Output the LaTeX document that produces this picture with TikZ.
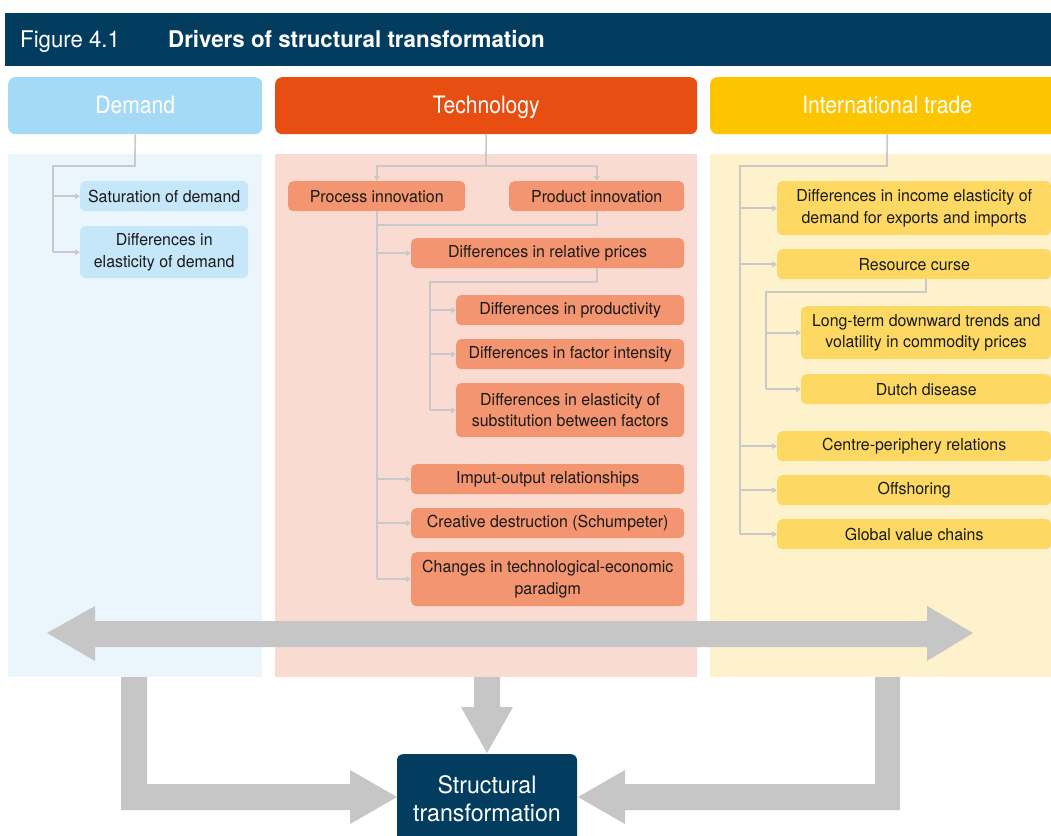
\documentclass[tikz,border=0pt]{standalone}
\usepackage{fontspec}
\setmainfont{TeX Gyre Heros}[FakeStretch=0.965]
\newfontfamily\titlefont{TeX Gyre Heros}[FakeStretch=0.97]
\newfontfamily\hdrfont{TeX Gyre Heros}[FakeStretch=0.88]
\usetikzlibrary{arrows.meta}

\definecolor{navy}{HTML}{023D60}
\definecolor{demhdr}{HTML}{A4DAF6}
\definecolor{dempanel}{HTML}{EBF6FC}
\definecolor{dembox}{HTML}{C6E7F9}
\definecolor{techhdr}{HTML}{E84D12}
\definecolor{techpanel}{HTML}{F9DBD1}
\definecolor{techbox}{HTML}{F29570}
\definecolor{tradehdr}{HTML}{FDC400}
\definecolor{tradepanel}{HTML}{FEF2CD}
\definecolor{tradebox}{HTML}{FDD964}
\definecolor{bigarrow}{HTML}{C6C6C6}
\definecolor{linegrey}{HTML}{C9C9C9}
\definecolor{ink}{HTML}{1A1A1A}

% box placed by its top-left corner and bottom-right corner
\newcommand\bx[7]{\node[#2, anchor=north west, minimum width={#5-#3}, minimum height={#6-#4}] (#1) at (#3,#4) {#7};}

\tikzset{
  colhdr/.style={rounded corners=7pt, inner sep=0pt, text=white, text height=18.5pt, text depth=3.5pt,
                 font=\hdrfont\fontsize{24}{28}\selectfont},
  itembox/.style={rounded corners=5pt, inner sep=0pt, align=center, text=ink, font=\fontsize{16.5}{21.5}\selectfont},
  dbox/.style={itembox, fill=dembox},
  tbox/.style={itembox, fill=techbox},
  ybox/.style={itembox, fill=tradebox},
  conn/.style={draw=linegrey, line width=1.7pt},
  arr/.style={conn, -{Triangle[length=5pt,width=5.5pt]}},
  bigfill/.style={fill=bigarrow, draw=none},
}

\begin{document}
\begin{tikzpicture}[x=1pt,y=-1pt]
\clip (0,0) rectangle (1051,835);
\fill[white] (0,0) rectangle (1051,835);

% title bar
\fill[navy] (5,13) rectangle (1060,66);
\node[anchor=base west, text=white, inner sep=0pt, font=\fontsize{23}{26}\selectfont] (fig) at (20,47) {Figure 4.1};
\node[anchor=base west, text=white, inner sep=0pt, font=\titlefont\bfseries\fontsize{23}{26}\selectfont] (ttl) at (168,47) {Drivers of structural transformation};

% column panels
\fill[dempanel] (8,154) rectangle (262,677);
\fill[techpanel] (275,154) rectangle (697,677);
\fill[tradepanel] (710,154) rectangle (1060,677);

% column headers
\bx{dem}{colhdr, fill=demhdr}{8}{77}{262}{134}{Demand}
\bx{tech}{colhdr, fill=techhdr}{275}{77}{697}{134}{Technology}
\bx{trade}{colhdr, fill=tradehdr}{710}{77}{1064}{134}{International trade}

% ---- Demand ----
\bx{sat}{dbox}{80}{181}{248}{211}{Saturation of demand}
\bx{del}{dbox}{80}{226}{248}{278}{Differences in\\elasticity of demand}
\coordinate (dj) at (135,166);
\coordinate (ds) at (53,166);
\draw[conn] (dem.south) -- (dj) -- (ds) -- (ds |- del.west);
\draw[arr] (ds |- sat.west) -- (sat.west);
\draw[arr] (ds |- del.west) -- (del.west);

% ---- Technology ----
\bx{proc}{tbox}{288}{181}{465}{211}{Process innovation}
\bx{prod}{tbox}{509}{181}{684}{211}{Product innovation}
\bx{rel}{tbox}{411}{238}{684}{268}{Differences in relative prices}
\bx{pty}{tbox}{456}{295}{684}{325}{Differences in productivity}
\bx{fint}{tbox}{456}{339}{684}{369}{Differences in factor intensity}
\bx{subs}{tbox}{456}{383}{684}{437}{Differences in elasticity of\\substitution between factors}
\bx{io}{tbox}{411}{464}{684}{494}{Imput-output relationships}
\bx{cd}{tbox}{411}{508}{684}{538}{Creative destruction (Schumpeter)}
\bx{chg}{tbox}{411}{552}{684}{606}{Changes in technological-economic\\paradigm}

\coordinate (tj) at (486,166);
\draw[conn] (tech.south) -- (tj);
\draw[arr] (tj) -| (proc.north);
\draw[arr] (tj) -| (prod.north);
\coordinate (pj) at (0,225);
\draw[conn] (proc.south) -- (proc.south |- chg.west);
\draw[conn] (prod.south) |- (proc.south |- pj);
\draw[arr] (proc.south |- rel.west) -- (rel.west);
\draw[arr] (proc.south |- io.west) -- (io.west);
\draw[arr] (proc.south |- cd.west) -- (cd.west);
\draw[arr] (proc.south |- chg.west) -- (chg.west);
\coordinate (rj) at (430,282);
\draw[conn] (prod.south |- rel.south) |- (rj) -- (rj |- subs.west);
\draw[arr] (rj |- pty.west) -- (pty.west);
\draw[arr] (rj |- fint.west) -- (fint.west);
\draw[arr] (rj |- subs.west) -- (subs.west);

% ---- International trade ----
\bx{inc}{ybox}{777}{181}{1051}{235}{Differences in income elasticity of\\demand for exports and imports}
\bx{rc}{ybox}{777}{249}{1051}{279}{Resource curse}
\bx{lt}{ybox}{801}{306}{1051}{359}{Long-term downward trends and\\volatility in commodity prices}
\bx{dd}{ybox}{801}{374}{1051}{404}{Dutch disease}
\bx{cp}{ybox}{777}{431}{1051}{461}{Centre-periphery relations}
\bx{off}{ybox}{777}{475}{1051}{505}{Offshoring}
\bx{gvc}{ybox}{777}{519}{1051}{549}{Global value chains}

\coordinate (yj) at (887,166);
\coordinate (ys) at (740,166);
\draw[conn] (trade.south) -- (yj) -- (ys) -- (ys |- gvc.west);
\draw[arr] (ys |- inc.west) -- (inc.west);
\draw[arr] (ys |- rc.west) -- (rc.west);
\draw[arr] (ys |- cp.west) -- (cp.west);
\draw[arr] (ys |- off.west) -- (off.west);
\draw[arr] (ys |- gvc.west) -- (gvc.west);
\coordinate (rcj) at (766,292);
\draw[conn] (lt.north |- rc.south) |- (rcj) -- (rcj |- dd.west);
\draw[arr] (rcj |- lt.west) -- (lt.west);
\draw[arr] (rcj |- dd.west) -- (dd.west);

% ---- interaction and outcome ----
\fill[bigfill] (47,633) -- (95,606) -- (95,621) -- (927,621) -- (927,606)
  -- (973,633) -- (927,661) -- (927,647) -- (95,647) -- (95,661) -- cycle;

\node[fill=navy, rounded corners=6pt, minimum width=180, minimum height=96, anchor=north,
      inner sep=0pt, align=center, text=white, font=\fontsize{24}{27.5}\selectfont,
      text depth=0pt] (st) at (487,754) {\raisebox{24pt}{\parbox{170pt}{\centering Structural\\transformation}}};

\fill[bigfill] (121,677) -- (147,677) -- (147,784) -- (350,784) -- (350,770)
  -- (397,797) -- (350,824) -- (350,810) -- (121,810) -- cycle;
\fill[bigfill] (900,677) -- (875,677) -- (875,784) -- (625,784) -- (625,770)
  -- (578,797) -- (625,824) -- (625,810) -- (900,810) -- cycle;
\fill[bigfill] (474,677) -- (500,677) -- (500,707) -- (513,707)
  -- (487,753) -- (461,707) -- (474,707) -- cycle;
\end{tikzpicture}
\end{document}
